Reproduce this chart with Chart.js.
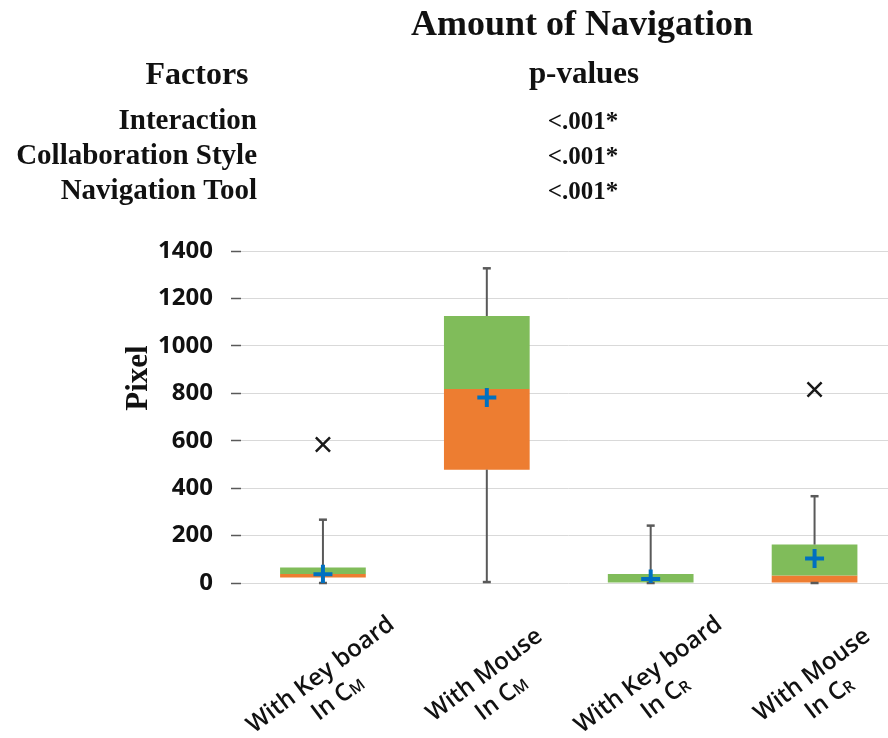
<!DOCTYPE html>
<html>
<head>
<meta charset="utf-8">
<title>Amount of Navigation</title>
<script src="https://cdn.jsdelivr.net/npm/chart.js@4.4.1/dist/chart.umd.min.js"></script>
<style>
  html, body { margin: 0; padding: 0; background: #fff; overflow: hidden; }
  #wrap { position: relative; width: 910px; height: 738px; }
</style>
</head>
<body>
<div id="wrap"><canvas id="chart"></canvas></div>
<script>
// categories (two-line labels, the second line has a small-cap subscript)
const categories = ['With Key board In CM', 'With Mouse In CM', 'With Key board In CR', 'With Mouse In CR'];
const labelLine1 = ['With Key board', 'With Mouse', 'With Key board', 'With Mouse'];
const labelLine2 = ['In C', 'In C', 'In C', 'In C'];
const labelSub   = ['M', 'M', 'R', 'R'];

// box plot values (pixels)
const whiskerLow  = [0, 4, 0, 0];
const q1          = [23, 478, 0, 0];
const median      = [38, 818, 0, 32];
const q3          = [65, 1126, 38, 162];
const whiskerHigh = [267, 1327, 242, 366];
const means       = [37, 782, 17, 103];
const outliers    = [584, null, null, 816];

const yTicks = [0, 200, 400, 600, 800, 1000, 1200, 1400];

// stats table above the chart
const factors = ['Interaction', 'Collaboration Style', 'Navigation Tool'];
const pValues = ['<.001*', '<.001*', '<.001*'];

const SERIF = '"Liberation Serif", "Times New Roman", serif';
const SANS = '"Open Sans", "Noto Sans", sans-serif';

// whiskers: drawn right after the green boxes, before the mean / outlier markers
const boxWhiskers = {
  id: 'boxWhiskers',
  afterDatasetDraw(chart, args) {
    if (args.index !== 2) return;
    const { ctx, scales: { x, y } } = chart;
    ctx.save();
    ctx.strokeStyle = '#595959';
    ctx.lineWidth = 2;
    categories.forEach((_, i) => {
      const px = x.getPixelForValue(i);
      [[whiskerLow[i], q1[i]], [q3[i], whiskerHigh[i]]].forEach(([a, b]) => {
        if (b <= a) return;
        ctx.beginPath();
        ctx.moveTo(px, y.getPixelForValue(a));
        ctx.lineTo(px, y.getPixelForValue(b));
        ctx.stroke();
      });
      ctx.lineWidth = 2.5;
      [whiskerLow[i], whiskerHigh[i]].forEach(v => {
        const py = y.getPixelForValue(v);
        ctx.beginPath();
        ctx.moveTo(px - 4, py);
        ctx.lineTo(px + 4, py);
        ctx.stroke();
      });
      ctx.lineWidth = 2;
    });
    ctx.restore();
  }
};

// header table, y title and the rotated x labels
const extraText = {
  id: 'extraText',
  afterDraw(chart) {
    const { ctx, chartArea, scales: { x } } = chart;
    ctx.save();
    ctx.fillStyle = '#111';
    ctx.textBaseline = 'alphabetic';

    ctx.textAlign = 'center';
    ctx.font = 'bold 36px ' + SERIF;
    ctx.fillText('Amount of Navigation', 582, 35);
    ctx.font = 'bold 32px ' + SERIF;
    ctx.fillText('Factors', 197, 84);
    ctx.font = 'bold 31px ' + SERIF;
    ctx.fillText('p-values', 584, 83);

    const rowBase = [128.5, 163.5, 198.5];
    factors.forEach((f, i) => {
      ctx.textAlign = 'right';
      ctx.font = 'bold 29px ' + SERIF;
      ctx.fillText(f, 257, rowBase[i]);
      ctx.textAlign = 'center';
      ctx.font = 'bold 25px ' + SERIF;
      ctx.fillText(pValues[i], 583, rowBase[i]);
    });

    // y axis title
    ctx.save();
    ctx.translate(147, 378);
    ctx.rotate(-Math.PI / 2);
    ctx.textAlign = 'center';
    ctx.font = 'bold 31px ' + SERIF;
    ctx.fillText('Pixel', 0, 0);
    ctx.restore();

    // x labels
    const ang = -37 * Math.PI / 180;
    categories.forEach((_, i) => {
      const px = x.getPixelForValue(i);
      ctx.save();
      ctx.translate(px - 3, chartArea.bottom + 91);
      ctx.rotate(ang);
      ctx.textAlign = 'center';
      ctx.font = '600 24px ' + SANS;
      ctx.fillText(labelLine1[i], 0, 8);
      const w1 = ctx.measureText(labelLine2[i]).width;
      ctx.font = '600 16px ' + SANS;
      const w2 = ctx.measureText(labelSub[i]).width;
      const start = -(w1 + w2) / 2;
      ctx.textAlign = 'left';
      ctx.font = '600 24px ' + SANS;
      ctx.fillText(labelLine2[i], start, 37);
      ctx.font = '600 16px ' + SANS;
      ctx.fillText(labelSub[i], start + w1, 38);
      ctx.restore();
    });
    ctx.restore();
  }
};

new Chart(document.getElementById('chart'), {
  type: 'bar',
  data: {
    labels: categories,
    datasets: [
      {
        type: 'line', label: 'Mean', data: means, showLine: false,
        pointStyle: 'cross', pointRadius: 9.5, pointBorderWidth: 4,
        borderColor: '#0070C0', backgroundColor: '#0070C0'
      },
      {
        type: 'line', label: 'Outlier', data: outliers, showLine: false,
        pointStyle: 'crossRot', pointRadius: 10, pointBorderWidth: 2.5,
        borderColor: '#1a1a1a', backgroundColor: '#1a1a1a'
      },
      {
        label: 'Median to Q3', data: median.map((m, i) => [m, q3[i]]),
        backgroundColor: '#80BC5A', grouped: false,
        barPercentage: 0.523, categoryPercentage: 1
      },
      {
        label: 'Q1 to Median', data: q1.map((v, i) => [v, median[i]]),
        backgroundColor: '#ED7D31', grouped: false,
        barPercentage: 0.523, categoryPercentage: 1
      }
    ]
  },
  options: {
    responsive: true,
    maintainAspectRatio: false,
    animation: false,
    layout: { padding: { left: 158, top: 251, right: 12, bottom: 155 } },
    plugins: { legend: { display: false }, tooltip: { enabled: false } },
    scales: {
      x: {
        grid: { display: false },
        border: { display: false },
        ticks: { display: false },
        afterFit: s => { s.height = 0; }
      },
      y: {
        min: 0, max: 1400,
        afterBuildTicks: s => { s.ticks = yTicks.map(v => ({ value: v })); },
        grid: { color: '#D9D9D9', lineWidth: 1, tickColor: '#595959', tickLength: 10, tickWidth: 1.5 },
        border: { display: false },
        ticks: {
          padding: 18, color: '#111',
          font: { family: SANS, weight: 'bold', size: 24 },
          callback: v => String(v)
        },
        afterFit: s => { s.width = 83; }
      }
    }
  },
  plugins: [boxWhiskers, extraText]
});
</script>
</body>
</html>
